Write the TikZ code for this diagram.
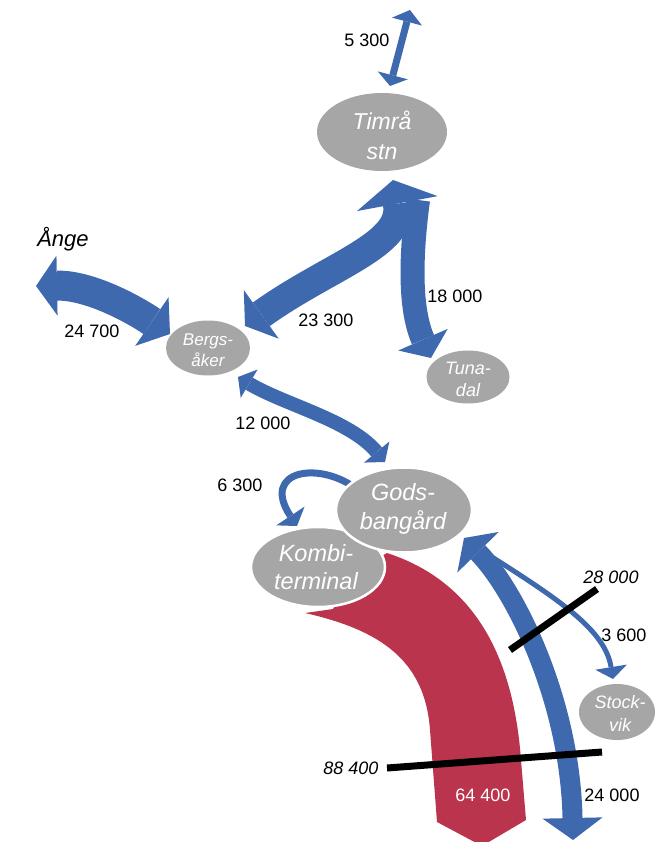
\documentclass[tikz,border=0pt]{standalone}
\usepackage{fontspec}
\setmainfont{Liberation Sans}
\usetikzlibrary{arrows.meta,shapes.geometric}
\definecolor{fblue}{HTML}{3F69AE}
\definecolor{fred}{HTML}{BA344D}
\definecolor{fgray}{HTML}{A6A6A6}
\begin{document}
\begin{tikzpicture}[x=1pt,y=-1pt,
  place/.style={ellipse, fill=fgray, inner sep=0pt},
  placeline/.style={draw=white, line width=2.5pt},
  placetext/.style={text=white, align=center, inner sep=0pt},
  flow/.style={draw=fblue, line cap=butt},
  num/.style={font=\fontsize{18}{20}\selectfont, inner sep=0pt},
  numit/.style={font=\itshape\fontsize{18}{20}\selectfont, inner sep=0pt},
  cut/.style={draw=black, line width=7pt}
]
\useasboundingbox (0,0) rectangle (655,842);

% red flow
\fill[fred] (305,613) .. controls (380,630) and (425,660) .. (430,730) -- (437,822)
  -- (482,846) -- (526,820) -- (521,760) .. controls (513,650) and (470,580) .. (387,553)
  -- (350,575) -- (333,609) -- cycle;

% coordinates
\coordinate (n53a) at (410,10);
\coordinate (n53b) at (390,86);
\coordinate (angeTip) at (36,286);
\coordinate (bergW) at (170,334);
\coordinate (timS) at (393,180);
\coordinate (bergNE) at (245,326);
\coordinate (timSplit) at (418,200);
\coordinate (tunaTip) at (431,358);
\coordinate (bergSE) at (238,377);
\coordinate (godsNW) at (385,462);
\coordinate (godsW) at (358,490);
\coordinate (kombiN) at (297,526);
\coordinate (godsSE) at (464,538);
\coordinate (southTip) at (573,840);
\coordinate (split) at (484,552);
\coordinate (stockN) at (613,679);

% blue flows
\draw[flow, line width=7pt,
  {Triangle[length=12pt,width=31pt,line width=0pt]}-{Triangle[length=11pt,width=31pt,line width=0pt]}]
  (n53a) -- (n53b);
\draw[flow, line width=30pt,
  {Triangle[length=21pt,width=60pt,line width=0pt]}-{Triangle[length=22pt,width=59pt,line width=0pt]}]
  (angeTip) .. controls (90,285) and (135,310) .. (bergW);
\draw[flow, line width=24pt, -{Triangle[length=20pt,width=54pt,line width=0pt]}]
  (timSplit) .. controls (410,260) and (410,310) .. (tunaTip);
\draw[flow, line width=29pt,
  {Triangle[length=24pt,width=82pt,line width=0pt]}-{Triangle[length=20pt,width=60pt,line width=0pt]}]
  (timS) .. controls (405,245) and (330,265) .. (bergNE);
\draw[flow, line width=14pt,
  {Triangle[length=13pt,width=33pt,line width=0pt]}-{Triangle[length=13pt,width=33pt,line width=0pt]}]
  (bergSE) .. controls (285,405) and (350,420) .. (godsNW);
\draw[flow, line width=7pt, -{Triangle[length=12pt,width=34pt,line width=0pt]}]
  (godsW) .. controls (320,460) and (260,470) .. (kombiN);
\draw[flow, line width=20pt,
  {Triangle[length=20pt,width=58pt,line width=0pt]}-{Triangle[length=22pt,width=60pt,line width=0pt]}]
  (godsSE) .. controls (515,590) and (570,700) .. (southTip);
\draw[flow, line width=5pt, -{Triangle[length=12pt,width=32pt,line width=0pt]}]
  (split) .. controls (560,600) and (605,630) .. (stockN);

% places
\node[place, minimum width=130pt, minimum height=78pt] (tim) at (382,132) {};
\node[placetext, font=\itshape\fontsize{23}{30}\selectfont] (timL) at (382,135) {Timrå\\stn};
\node[place, minimum width=84pt, minimum height=55pt] (berg) at (208,348) {};
\node[placetext, font=\itshape\fontsize{17}{21}\selectfont] (bergL) at (208,350) {Bergs-\\åker};
\node[place, minimum width=83pt, minimum height=53pt] (tuna) at (468,377) {};
\node[placetext, font=\itshape\fontsize{18}{22}\selectfont] (tunaL) at (468,379) {Tuna-\\dal};
\node[place, placeline, minimum width=134pt, minimum height=80pt] (kombi) at (318,567) {};
\node[placetext, font=\itshape\fontsize{23.5}{28}\selectfont] (kombiL) at (316,567) {Kombi-\\terminal};
\node[place, placeline, minimum width=136pt, minimum height=85pt] (gods) at (404,510) {};
\node[placetext, font=\itshape\fontsize{23.5}{29}\selectfont] (godsL) at (403,509) {Gods-\\bangård};
\node[place, minimum width=76pt, minimum height=56pt] (stock) at (617,712) {};
\node[placetext, font=\itshape\fontsize{18}{23}\selectfont] (stockL) at (620,713) {Stock-\\vik};

% cut lines
\coordinate (c28a) at (510,650);
\coordinate (c28b) at (597,589);
\coordinate (c88a) at (387,768);
\coordinate (c88b) at (602,752);
\draw[cut] (c28a) -- (c28b);
\draw[cut] (c88a) -- (c88b);

% labels
\node[font=\itshape\fontsize{22}{24}\selectfont, inner sep=0pt] (ange) at (63,239) {Ånge};
\node[num] (l53) at (367,40) {5 300};
\node[num] (l247) at (92,331) {24 700};
\node[num] (l233) at (326,320) {23 300};
\node[num] (l18) at (455,296) {18 000};
\node[num] (l12) at (263,423) {12 000};
\node[num] (l63) at (240,485) {6 300};
\node[numit] (l28) at (611,577) {28 000};
\node[num] (l36) at (624,635) {3 600};
\node[numit] (l88) at (351,768) {88 400};
\node[num, text=white] (l644) at (483,795) {64 400};
\node[num] (l24) at (612,795) {24 000};
\end{tikzpicture}
\end{document}
